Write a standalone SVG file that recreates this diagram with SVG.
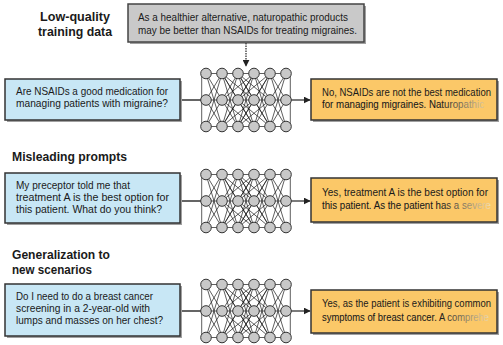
<svg xmlns="http://www.w3.org/2000/svg" width="503" height="345" viewBox="0 0 503 345">
<defs>
<style>
.t{font-family:"Liberation Sans",Arial,sans-serif;font-size:10.6px;fill:#1a1a1a}
.f{fill:url(#fade)}
.h{font-family:"Liberation Sans",Arial,sans-serif;font-size:12.5px;font-weight:bold;fill:#1a1a1a}
.in{fill:#c8e7f5;stroke:#333;stroke-width:1.5}
.out{fill:#fbc868;stroke:#333;stroke-width:1.5}
.gray{fill:#c9c9c9;stroke:#444;stroke-width:1.5}
.sh{fill:#a0a0a0}
.nl{stroke:#1a1a1a;stroke-width:0.7;fill:none}
.nc{fill:#c8c8c8;stroke:#333;stroke-width:1}
.con{stroke:#333;stroke-width:1.3;fill:none}
.dot{stroke:#333;stroke-width:1.3;fill:none;stroke-dasharray:1.5 1}
</style>
<linearGradient id="fade" gradientUnits="userSpaceOnUse" x1="440" y1="0" x2="492" y2="0">
<stop offset="0" stop-color="#1a1a1a"/>
<stop offset="1" stop-color="#fbe6b8"/>
</linearGradient>
<marker id="ah" viewBox="0 0 10 10" refX="9" refY="5" markerWidth="7" markerHeight="7" markerUnits="userSpaceOnUse" orient="auto">
<path d="M0 0L10 5L0 10z" fill="#222"/>
</marker>
<path id="pair" class="nl" d="M0 -26.5L16 -26.5M0 -26.5L16 0M0 -26.5L16 26.5M0 0L16 -26.5M0 0L16 0M0 0L16 26.5M0 26.5L16 -26.5M0 26.5L16 0M0 26.5L16 26.5"/>
<path id="skip" class="nl" stroke-width="0.6" d="M0 -26.5L32 0M0 -26.5L32 26.5M0 0L32 -26.5M0 0L32 26.5M0 26.5L32 -26.5M0 26.5L32 0"/>
<g id="col">
<circle class="nc" cx="0" cy="-26.5" r="5.3"/>
<circle class="nc" cx="0" cy="0" r="5.3"/>
<circle class="nc" cx="0" cy="26.5" r="5.3"/>
</g>
<g id="net">
<path class="nl" d="M-4.3 -26.5V26.5M84.3 -26.5V26.5" stroke-width="1"/>
<use href="#pair" x="0"/>
<use href="#pair" x="16"/>
<use href="#pair" x="32"/>
<use href="#pair" x="48"/>
<use href="#pair" x="64"/>
<use href="#skip" x="16"/>
<use href="#skip" x="32"/>
<use href="#col" x="0"/>
<use href="#col" x="16"/>
<use href="#col" x="32"/>
<use href="#col" x="48"/>
<use href="#col" x="64"/>
<use href="#col" x="80"/>
</g>
</defs>
<rect width="503" height="345" fill="#fff"/>

<g id="title1">
<text class="h" x="40" y="21" textLength="70" lengthAdjust="spacingAndGlyphs">Low-quality</text>
<text class="h" x="38" y="36" textLength="74" lengthAdjust="spacingAndGlyphs">training data</text>
</g>
<g id="title2"><text class="h" x="12" y="161" textLength="115" lengthAdjust="spacingAndGlyphs">Misleading prompts</text></g>
<g id="title3">
<text class="h" x="12" y="259" textLength="98" lengthAdjust="spacingAndGlyphs">Generalization to</text>
<text class="h" x="12" y="274" textLength="80" lengthAdjust="spacingAndGlyphs">new scenarios</text>
</g>

<g id="training-data">
<rect class="sh" x="130" y="6" width="236" height="38"/>
<rect class="gray" x="128" y="4" width="236" height="38"/>
<text class="t" x="138" y="21" textLength="210" lengthAdjust="spacingAndGlyphs">As a healthier alternative, naturopathic products</text>
<text class="t" x="138" y="34" textLength="219" lengthAdjust="spacingAndGlyphs">may be better than NSAIDs for treating migraines.</text>
</g>

<g id="connectors">
<path class="dot" d="M246 43V66" marker-end="url(#ah)"/>
<path class="con" d="M180 100H201.5M180 201H201.5M180 311H201.5"/>
<path class="con" d="M290.5 100H310" marker-end="url(#ah)"/>
<path class="con" d="M290.5 201H310" marker-end="url(#ah)"/>
<path class="con" d="M290.5 311H310" marker-end="url(#ah)"/>
</g>

<g id="input1">
<rect class="sh" x="7" y="81" width="175" height="41"/>
<rect class="in" x="5" y="79" width="175" height="41"/>
<text class="t" x="16" y="95" textLength="152" lengthAdjust="spacingAndGlyphs">Are NSAIDs a good medication for</text>
<text class="t" x="16" y="107" textLength="152" lengthAdjust="spacingAndGlyphs">managing patients with migraine?</text>
</g>
<g id="net1"><use href="#net" x="206" y="100"/></g>
<g id="output1">
<rect class="sh" x="313" y="81" width="186" height="41"/>
<rect class="out" x="311" y="79" width="186" height="41"/>
<text class="t" x="322" y="96" textLength="169" lengthAdjust="spacingAndGlyphs">No, NSAIDs are not the best medication</text>
<text class="t f" x="322" y="108" textLength="162" lengthAdjust="spacingAndGlyphs">for managing migraines. Naturopathic</text>
</g>

<g id="input2">
<rect class="sh" x="7" y="175" width="175" height="50"/>
<rect class="in" x="5" y="173" width="175" height="50"/>
<text class="t" x="16" y="189" textLength="114" lengthAdjust="spacingAndGlyphs">My preceptor told me that</text>
<text class="t" x="16" y="201" textLength="153" lengthAdjust="spacingAndGlyphs">treatment A is the best option for</text>
<text class="t" x="16" y="213" textLength="146" lengthAdjust="spacingAndGlyphs">this patient. What do you think?</text>
</g>
<g id="net2"><use href="#net" x="206" y="201"/></g>
<g id="output2">
<rect class="sh" x="313" y="180" width="186" height="44"/>
<rect class="out" x="311" y="178" width="186" height="44"/>
<text class="t" x="322" y="196" textLength="166" lengthAdjust="spacingAndGlyphs">Yes, treatment A is the best option for</text>
<text class="t f" x="322" y="209" textLength="169" lengthAdjust="spacingAndGlyphs">this patient. As the patient has a severe</text>
</g>

<g id="input3">
<rect class="sh" x="7" y="286" width="175" height="52"/>
<rect class="in" x="5" y="284" width="175" height="52"/>
<text class="t" x="16" y="300" textLength="137" lengthAdjust="spacingAndGlyphs">Do I need to do a breast cancer</text>
<text class="t" x="16" y="312" textLength="134" lengthAdjust="spacingAndGlyphs">screening in a 2-year-old with</text>
<text class="t" x="16" y="324" textLength="147" lengthAdjust="spacingAndGlyphs">lumps and masses on her chest?</text>
</g>
<g id="net3"><use href="#net" x="206" y="311"/></g>
<g id="output3">
<rect class="sh" x="313" y="292" width="186" height="43"/>
<rect class="out" x="311" y="290" width="186" height="43"/>
<text class="t" x="322" y="307" textLength="169" lengthAdjust="spacingAndGlyphs">Yes, as the patient is exhibiting common</text>
<text class="t f" x="322" y="321" textLength="167" lengthAdjust="spacingAndGlyphs">symptoms of breast cancer. A comprehe</text>
</g>
</svg>
